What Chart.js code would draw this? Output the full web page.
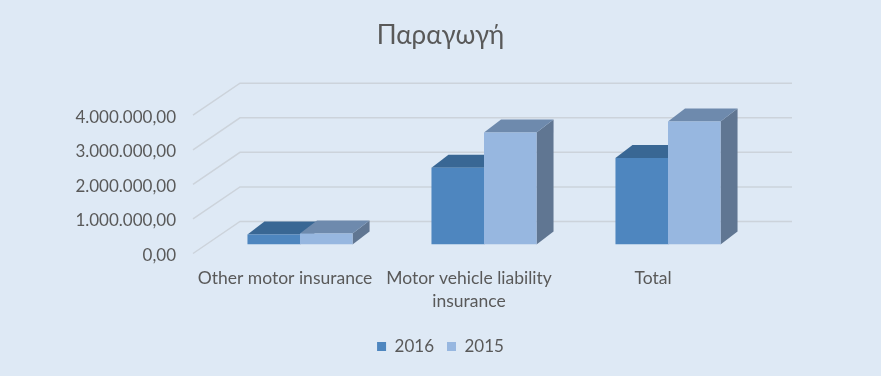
<!DOCTYPE html>
<html>
<head>
<meta charset="utf-8">
<script src="https://cdn.jsdelivr.net/npm/chart.js@4.4.1/dist/chart.umd.min.js"></script>
<style>
  html, body { margin: 0; padding: 0; background: #dee9f5; }
  #wrap { width: 881px; height: 376px; position: relative; }
</style>
</head>
<body>
<div id="wrap"><canvas id="myChart"></canvas></div>
<script>
// data
const categories = [['Other motor insurance'], ['Motor vehicle liability', 'insurance'], ['Total']];
const values2016 = [290000, 2220000, 2500000];
const values2015 = [320000, 3240000, 3560000];
const yTicks = [0, 1000000, 2000000, 3000000, 4000000];

// colours
const front2016 = '#4e86bf', top2016 = '#396794';
const front2015 = '#97b7e0', top2015 = '#6e8aad';
const sideColor = '#607692';
const gridColor = '#ccd3db';
const textColor = '#595959';

// fake 3d offsets (px)
const DX = 17, DY = -13;          // depth of a bar
const WALL_X = 32, WALL_Y = -23;  // back wall from bar plane
const FRONT_X = -15, FRONT_Y = 9; // front edge from bar plane

function poly(ctx, pts, color) {
  ctx.beginPath();
  ctx.moveTo(pts[0][0], pts[0][1]);
  for (let i = 1; i < pts.length; i++) ctx.lineTo(pts[i][0], pts[i][1]);
  ctx.closePath();
  ctx.fillStyle = color;
  ctx.fill();
}

const fake3d = {
  id: 'fake3d',
  beforeDatasetsDraw(chart) {
    const { ctx, chartArea: a, scales: { y } } = chart;
    ctx.save();
    ctx.strokeStyle = gridColor;
    ctx.lineWidth = 1.5;
    y.ticks.forEach(t => {
      const py = y.getPixelForValue(t.value);
      ctx.beginPath();
      ctx.moveTo(a.left + FRONT_X, py + FRONT_Y);
      ctx.lineTo(a.left + WALL_X, py + WALL_Y);
      ctx.lineTo(a.right + WALL_X, py + WALL_Y);
      ctx.stroke();
    });
    const tops = [top2016, top2015];
    chart.data.datasets.forEach((ds, i) => {
      chart.getDatasetMeta(i).data.forEach(bar => {
        const p = bar.getProps(['x', 'y', 'base', 'width'], true);
        const l = p.x - p.width / 2, r = p.x + p.width / 2;
        poly(ctx, [[r, p.y], [r + DX, p.y + DY], [r + DX, p.base + DY], [r, p.base]], sideColor);
        poly(ctx, [[l, p.y], [r, p.y], [r + DX, p.y + DY], [l + DX, p.y + DY]], tops[i]);
      });
    });
    ctx.restore();
  }
};

const ctx = document.getElementById('myChart');

const myChart = new Chart(ctx, {
  type: 'bar',
  data: {
    labels: categories,
    datasets: [{
      label: '2016',
      data: values2016,
      backgroundColor: front2016,
      borderWidth: 0,
    }, {
      label: '2015',
      data: values2015,
      backgroundColor: front2015,
      borderWidth: 0,
    }]
  },
  options: {
    responsive: true,
    maintainAspectRatio: false,
    animation: false,
    layout: { padding: { top: 0, right: 0, bottom: 11, left: 0 } },
    categoryPercentage: 0.571,
    barPercentage: 1,
    scales: {
      x: {
        grid: { display: false },
        border: { display: false },
        afterFit: s => { s.height = 80.5; },
        ticks: {
          color: textColor,
          font: { family: 'Lato', size: 17.5, lineHeight: 1.33 },
          padding: 14,
          labelOffset: FRONT_X,
          maxRotation: 0,
          autoSkip: false,
        }
      },
      y: {
        min: 0,
        max: 4000000,
        afterBuildTicks: s => { s.ticks = yTicks.map(v => ({ value: v })); },
        afterFit: s => { s.width = 208; },
        grid: { display: false },
        border: { display: false },
        ticks: {
          color: textColor,
          font: { family: 'Lato', size: 17 },
          padding: 24,
          labelOffset: 11,
          callback: v => v.toLocaleString('de-DE', { minimumFractionDigits: 2, maximumFractionDigits: 2 }),
        }
      },
      // empty axis on the right, only to leave room for the back wall
      spacer: {
        position: 'right',
        grid: { display: false },
        border: { display: false },
        ticks: { display: false },
        afterFit: s => { s.width = 121; },
      }
    },
    plugins: {
      title: {
        display: true,
        text: 'Παραγωγή',
        color: textColor,
        font: { family: 'Lato', size: 26, weight: 'normal' },
        padding: { top: 20, bottom: 55 },
      },
      legend: {
        position: 'bottom',
        labels: {
          color: textColor,
          font: { family: 'Lato', size: 17 },
          boxWidth: 9,
          boxHeight: 9,
          padding: 13,
        }
      },
      tooltip: { enabled: false }
    }
  },
  plugins: [fake3d]
});
</script>
</body>
</html>
